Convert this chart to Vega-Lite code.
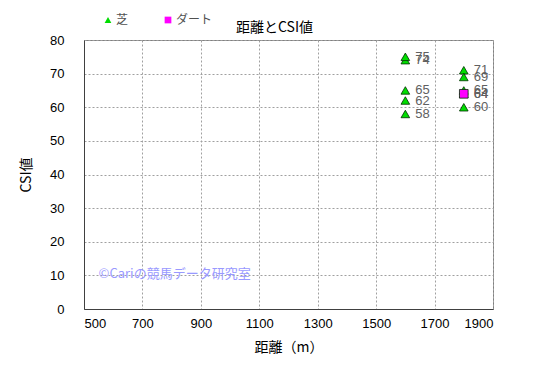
{
  "$schema": "https://vega.github.io/schema/vega-lite/v6.json",
  "width": 409,
  "height": 269,
  "autosize": "none",
  "padding": {"left": 84, "top": 40, "right": 52, "bottom": 68},
  "background": "white",
  "title": {"text": "距離とCSI値", "fontSize": 14, "fontWeight": "normal", "font": "Noto Sans CJK JP", "color": "#000000", "offset": -21, "dx": -14},
  "config": {
    "font": "Noto Sans CJK JP",
    "view": {"stroke": "#808080", "strokeWidth": 1},
    "axis": {
      "grid": true, "gridDash": [2, 2], "gridColor": "#a0a0a0", "gridWidth": 1,
      "domainColor": "#404040", "ticks": false, "labelOverlap": false,
      "labelFontSize": 13, "labelColor": "#000000", "labelFont": "Liberation Sans",
      "titleFontSize": 14, "titleFontWeight": "normal", "titleColor": "#000000"
    }
  },
  "encoding": {
    "x": {"field": "dist", "type": "quantitative", "scale": {"domain": [500, 1900], "nice": false, "zero": false}, "axis": {"values": [500, 700, 900, 1100, 1300, 1500, 1700, 1900], "format": "d", "title": "距離（m）", "titlePadding": 10, "labelPadding": 8}},
    "y": {"field": "csi", "type": "quantitative", "scale": {"domain": [0, 80], "nice": false}, "axis": {"values": [0, 10, 20, 30, 40, 50, 60, 70, 80], "title": "CSI値", "titlePadding": 16, "labelPadding": 20}}
  },
  "data": {
    "values": [
      {"dist": 1600, "csi": 74, "type": "芝"},
      {"dist": 1600, "csi": 75, "type": "芝"},
      {"dist": 1600, "csi": 65, "type": "芝"},
      {"dist": 1600, "csi": 62, "type": "芝"},
      {"dist": 1600, "csi": 58, "type": "芝"},
      {"dist": 1800, "csi": 71, "type": "芝"},
      {"dist": 1800, "csi": 69, "type": "芝"},
      {"dist": 1800, "csi": 65, "type": "芝"},
      {"dist": 1800, "csi": 64, "type": "芝"},
      {"dist": 1800, "csi": 60, "type": "芝"},
      {"dist": 1800, "csi": 64, "type": "ダート"}
    ]
  },
  "layer": [
    {
      "mark": {"type": "point", "filled": true, "stroke": "#003000", "strokeWidth": 0.8, "opacity": 1},
      "encoding": {
        "shape": {"field": "type", "type": "nominal", "scale": {"domain": ["芝", "ダート"], "range": ["triangle-up", "square"]}, "legend": {"orient": "none", "direction": "horizontal", "legendX": 18, "legendY": -26, "title": null, "labelFontSize": 12, "symbolSize": 45, "columnPadding": 33, "labelOffset": 2, "labelColor": "#505050", "symbolStrokeWidth": 0}},
        "color": {"field": "type", "type": "nominal", "scale": {"domain": ["芝", "ダート"], "range": ["#00dd00", "#ff00ff"]}, "legend": {"orient": "none", "direction": "horizontal", "legendX": 18, "legendY": -26, "title": null, "labelFontSize": 12, "symbolSize": 45, "columnPadding": 33, "labelOffset": 2, "labelColor": "#505050", "symbolStrokeWidth": 0}},
        "size": {"value": 75}
      }
    },
    {
      "mark": {"type": "text", "align": "left", "dx": 10, "fontSize": 13, "color": "#606060", "font": "Liberation Sans"},
      "encoding": {
        "text": {"field": "csi", "type": "quantitative"}
      }
    },
    {
      "data": {"values": [{"dist": 550, "csi": 10.5, "label": "©Cariの競馬データ研究室"}]},
      "mark": {"type": "text", "align": "left", "fontSize": 13, "color": "#9999ff"},
      "encoding": {
        "text": {"field": "label"}
      }
    }
  ]
}
